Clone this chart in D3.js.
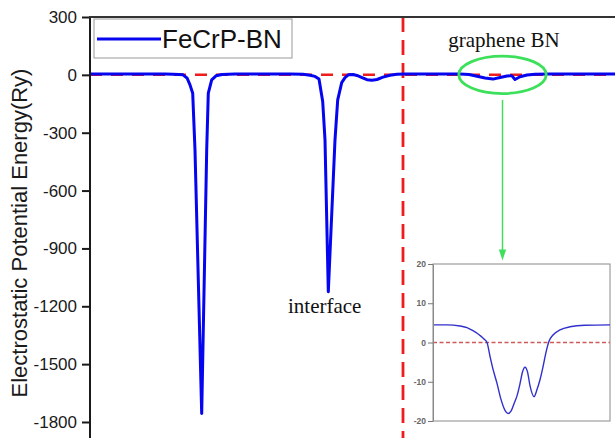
<!DOCTYPE html>
<html><head><meta charset="utf-8">
<script src="https://cdn.jsdelivr.net/npm/d3@7"></script>
<style>body{margin:0;background:#fff}svg{display:block}</style>
</head><body><svg id="c" width="615" height="438"></svg>
<script>
// ---- data (position along slab, arbitrary units; potential in Ry) ----
const posX = [0,4,8,12,15,16.6,17.8,18.6,19.4,20,20.54,21,22.34,23.34,23.66,24.34,25.2,26.4,29,34,40,42.6,44,45,45.8,46.54,47,47.66,49,49.54,50.34,51,51.66,52.6,53.4,54.4,55.4,56.4,57.4,58.6,60,61.4,63,68,74,75.8,77.4,79,80.6,82,83.4,84.34,85,86,87.4,89,92,98,105];
const potential = [4,4,4,4,4,3,2,0,-16,-52,-95,-390,-1756,-390,-95,-26,-5,2,4,4,4,3,-2,-8,-22,-138,-337,-1125,-337,-130,-40,-14,0,2,-3,-14,-25,-28,-24,-12,-2,3,4,4,4,2,-7,-16,-22,-14,-6,-4,-24,-10,-1,3,4,4,4];
const yTicks = [300,0,-300,-600,-900,-1200,-1500,-1800];

// inset (zoom of the graphene BN region)
const insetX = [0,1.4,2.7,3.4,4.0,4.7,5.1,5.4,5.7,6.0,6.4,6.8,7.2,7.5,7.8,8.1,8.4,8.7,8.95,9.2,9.45,9.7,10.1,10.4,10.7,11.0,11.3,11.6,12.0,12.7,13.7,15.2,17.7];
const insetV = [4.5,4.5,4.2,3.8,3.0,1.8,0.9,0,-3.5,-6.8,-10.4,-14.5,-17.3,-18.1,-17.5,-15.6,-13.6,-10.5,-7.5,-6.3,-7.5,-11,-13.8,-12,-9.5,-6.2,-2.5,0.3,1.9,3.2,4.0,4.4,4.5];
const insetTicks = [20,10,0,-10,-20];

const seriesName = "FeCrP-BN";
const yTitle = "Electrostatic Potential Energy(Ry)";
const interfaceNote = {text:"interface", x:39.6, v:-1235};
const grapheneNote = {text:"graphene BN", x:82.8, v:145};
const boundaryX = 62.6;           // red vertical dashed separator
const zoomCenter = {x:82.5, v:0}; // green ellipse
const arrowV = [-130, -963];      // green arrow from/to

// ---- scales ----
const svg = d3.select("#c");
const x = d3.scaleLinear([0,105],[90,615]);
const y = d3.scaleLinear([-1883,300],[438,17]);
const SANS = "'Liberation Sans', Arial, sans-serif";
const SERIF = "'Liberation Serif', 'Times New Roman', serif";
const fmt = d => String(d);

svg.append("defs").append("clipPath").attr("id","plot")
  .append("rect").attr("x",90).attr("y",17).attr("width",525).attr("height",421);

// zero reference line
svg.append("line").attr("x1",x(0)).attr("x2",x(105)).attr("y1",y(0)).attr("y2",y(0))
  .attr("stroke","#ee1c1c").attr("stroke-width",2.5).attr("stroke-dasharray","12,9");

// separator
svg.append("line").attr("x1",x(boundaryX)).attr("x2",x(boundaryX)).attr("y1",y(300)).attr("y2",438)
  .attr("stroke","#ee1c1c").attr("stroke-width",2.8).attr("stroke-dasharray","15,8");

// main curve
const line = d3.line().x((d,i)=>x(posX[i])).y(d=>y(d)).curve(d3.curveLinear);
svg.append("path").datum(potential).attr("clip-path","url(#plot)")
  .attr("d",line).attr("fill","none").attr("stroke","#0505f0").attr("stroke-width",3)
  .attr("stroke-linejoin","round");

// axes
const ax = svg.append("g").attr("transform",`translate(${x(0)},0)`)
  .call(d3.axisLeft(y).tickValues(yTicks).tickSize(8).tickSizeOuter(0).tickPadding(5).tickFormat(fmt));
ax.select(".domain").attr("stroke","#1a1a1a").attr("stroke-width",2).attr("d",`M0,${y(300)}V438`);
ax.selectAll(".tick line").attr("stroke","#1a1a1a").attr("stroke-width",2);
ax.selectAll(".tick text").attr("font-family",SANS).attr("font-size",17).attr("fill","#1a1a1a");

svg.append("line").attr("x1",x(0)-1).attr("x2",615).attr("y1",y(300)).attr("y2",y(300))
  .attr("stroke","#333").attr("stroke-width",2);

svg.append("text").attr("transform",`translate(27,233) rotate(-90)`)
  .attr("text-anchor","middle").attr("font-family",SANS).attr("font-size",22).attr("fill","#1a1a1a")
  .text(yTitle);

// legend
const lg = svg.append("g");
lg.append("rect").attr("x",94).attr("y",19).attr("width",198).attr("height",39)
  .attr("fill","#fff").attr("stroke","#999").attr("stroke-width",1);
lg.append("line").attr("x1",97).attr("x2",161).attr("y1",39).attr("y2",39)
  .attr("stroke","#0505f0").attr("stroke-width",3);
lg.append("text").attr("x",162).attr("y",47.5).attr("font-family",SANS).attr("font-size",26)
  .attr("fill","#111").text(seriesName);

// annotations
svg.append("text").attr("x",x(interfaceNote.x)).attr("y",y(interfaceNote.v))
  .attr("font-family",SERIF).attr("font-size",21).attr("fill","#111").text(interfaceNote.text);
svg.append("text").attr("x",x(grapheneNote.x)).attr("y",y(grapheneNote.v)).attr("text-anchor","middle")
  .attr("font-family",SERIF).attr("font-size",21).attr("fill","#111").text(grapheneNote.text);

const G = "#3ce05a";
svg.append("ellipse").attr("cx",x(zoomCenter.x)).attr("cy",y(zoomCenter.v)).attr("rx",43.7).attr("ry",18.7)
  .attr("fill","none").attr("stroke",G).attr("stroke-width",2.8);
const ax0 = x(zoomCenter.x), ay0 = y(arrowV[0]), ay1 = y(arrowV[1]);
svg.append("line").attr("x1",ax0).attr("x2",ax0).attr("y1",ay0).attr("y2",ay1-8)
  .attr("stroke",G).attr("stroke-width",1.5);
svg.append("path").attr("d",`M${ax0-3.6},${ay1-11}L${ax0+3.6},${ay1-11}L${ax0},${ay1}Z`).attr("fill",G);

// inset
const ix = d3.scaleLinear([0,17.7],[433,610]);
const iy = d3.scaleLinear([-20,20],[421,264]);
const ins = svg.append("g");
ins.append("rect").attr("x",433).attr("y",264).attr("width",177).attr("height",157)
  .attr("fill","#fff").attr("stroke","#8a8a8a").attr("stroke-width",1);
ins.append("line").attr("x1",ix(0)).attr("x2",ix(17.7)).attr("y1",iy(0)).attr("y2",iy(0))
  .attr("stroke","#d05a5a").attr("stroke-width",1.3).attr("stroke-dasharray","4,2.5");
ins.append("path").datum(insetV)
  .attr("d",d3.line().x((d,i)=>ix(insetX[i])).y(d=>iy(d)).curve(d3.curveMonotoneX))
  .attr("fill","none").attr("stroke","#3030cc").attr("stroke-width",1.4);
const iax = ins.append("g").attr("transform","translate(433,0)")
  .call(d3.axisLeft(iy).tickValues(insetTicks).tickSize(5).tickSizeOuter(0).tickPadding(2).tickFormat(fmt));
iax.select(".domain").attr("stroke","#8a8a8a");
iax.selectAll(".tick line").attr("stroke","#777");
iax.selectAll(".tick text").attr("font-family",SANS).attr("font-size",8.5).attr("font-weight","bold").attr("fill","#666");
</script></body></html>
